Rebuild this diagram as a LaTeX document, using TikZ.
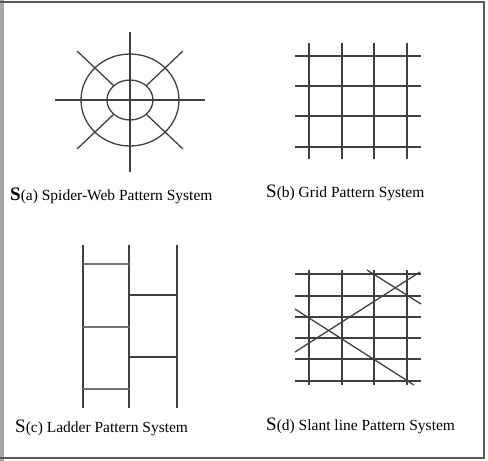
\documentclass[tikz,border=0pt]{standalone}
\usepackage{fontspec}
\setmainfont{Liberation Serif}
\usetikzlibrary{positioning,calc}

\begin{document}
\begin{tikzpicture}[x=1pt, y=-1pt,
  ln/.style={draw=black!75, line width=1.3pt},
  caption/.style={anchor=base west, inner sep=0pt, font=\fontsize{15.5}{17}\selectfont}]
\useasboundingbox (0,0) rectangle (488,461);
% frame
\fill[black!35] (0,0) rectangle (3.5,461);
\draw[black!65, line width=1.6pt] (0,2) -- (484,2) -- (484,458) -- (0,458);

% (a) spider web
\coordinate (c) at (130,100);
\draw[ln] (c) ellipse [x radius=23, y radius=20];
\draw[ln] (c) ellipse [x radius=49, y radius=46];
\draw[ln] (130,32) -- (130,172);
\draw[ln] (55,100) -- (205,100);
\foreach \sx/\sy in {1/1, 1/-1, -1/1, -1/-1}
  \draw[ln] ($(c)+(\sx*53,\sy*49)$) -- ($(c)+(\sx*16.5,\sy*14.5)$);
\node[caption] (capa) at (10,200) {{\bfseries\fontsize{19}{20}\selectfont S}(a) Spider-Web Pattern System};

% (b) grid
\foreach \x in {309,342,374,407} \draw[ln] (\x,43) -- (\x,159);
\foreach \y in {56,86,116,147} \draw[ln] (295,\y) -- (421,\y);
\node[caption] (capb) at (266,197) {{\fontsize{19}{20}\selectfont S}(b) Grid Pattern System};

% (c) ladder
\foreach \x in {83,129,177} \draw[ln] (\x,245) -- (\x,408);
\foreach \y in {264,327,389} \draw[ln, black!55] (83,\y) -- (129,\y);
\foreach \y in {295,357} \draw[ln] (129,\y) -- (177,\y);
\node[caption] (capc) at (15,432) {{\fontsize{19}{20}\selectfont S}(c) Ladder Pattern System};

% (d) slant lines
\foreach \x in {309,342,374,407} \draw[ln] (\x,270) -- (\x,385);
\foreach \y in {274,296,317,338,359,381} \draw[ln] (295,\y) -- (421,\y);
\draw[ln] (295,309) -- (414,385);
\draw[ln] (295,352) -- (420,272);
\draw[ln] (367,270) -- (421,304);
\node[caption] (capd) at (266,430) {{\fontsize{19}{20}\selectfont S}(d) Slant line Pattern System};
\end{tikzpicture}
\end{document}
